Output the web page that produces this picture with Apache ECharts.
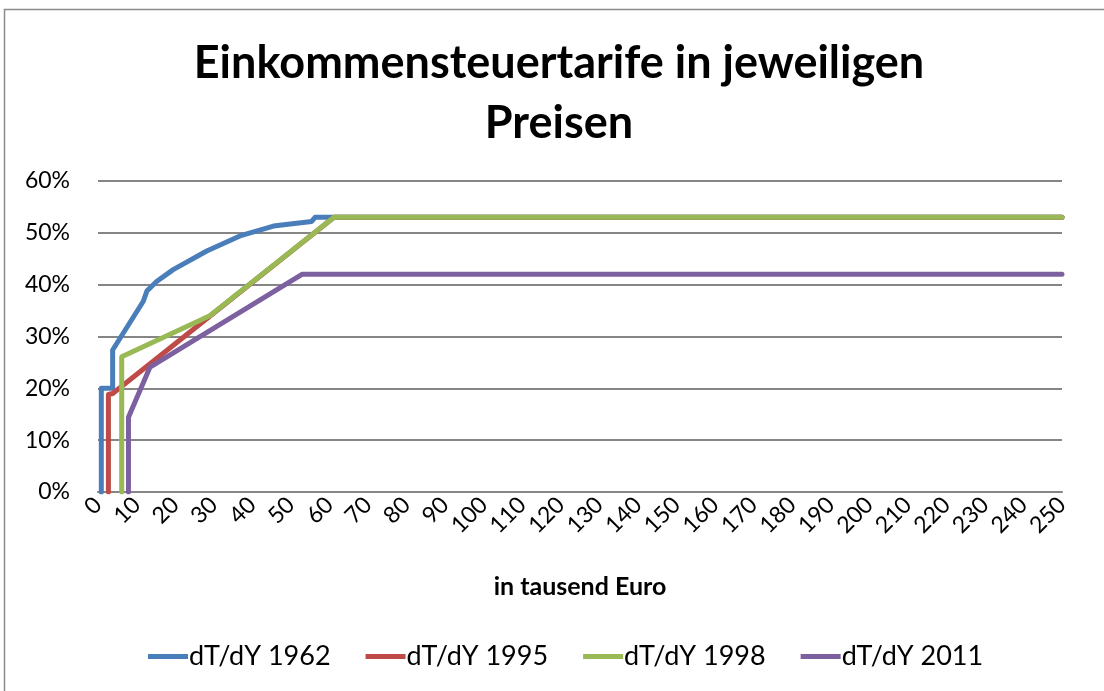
<!DOCTYPE html>
<html>
<head>
<meta charset="utf-8">
<script src="https://cdn.jsdelivr.net/npm/echarts@6/dist/echarts.min.js"></script>
<style>
html,body{margin:0;padding:0;background:#fff;}
#chart{width:1104px;height:691px;}
</style>
</head>
<body>
<div id="chart"></div>
<script>
// x: Einkommen in tausend Euro, y: Grenzsteuersatz in %
const income1962 = [0.86, 0.86, 3.8, 3.8, 11.75, 12.7, 15.2, 19.5, 28.2, 36.8, 45.5, 55.4, 56.3, 250];
const rate1962   = [0,    20,   20,  27.4, 36.8, 38.8, 40.6, 42.9, 46.5, 49.4, 51.3, 52.2, 53,   53];
const income1995 = [2.7, 2.7, 3.8, 29.0, 61.2, 250];
const rate1995   = [0,   18.8, 19, 33.9, 53,   53];
const income1998 = [6.15, 6.15, 29.0, 61.2, 250];
const rate1998   = [0,    26.1, 34.0, 53,   53];
const income2011 = [7.9, 7.9, 13.5, 52.9, 250];
const rate2011   = [0,   14.4, 24.1, 42,   42];
const seriesNames = ['dT/dY 1962', 'dT/dY 1995', 'dT/dY 1998', 'dT/dY 2011'];
const xTicks = {min: 0, max: 250, step: 10};
const yTicks = {min: 0, max: 60, step: 10};

const zip = (a, b) => a.map((v, i) => [v, b[i]]);
const colors = ['#4A7EBB', '#BE4B48', '#98B954', '#7D60A0'];
const font = 'Lato, "Open Sans", sans-serif';
const dataSets = [zip(income1962, rate1962), zip(income1995, rate1995), zip(income1998, rate1998), zip(income2011, rate2011)];

const chart = echarts.init(document.getElementById('chart'));
chart.setOption({
  animation: false,
  color: colors,
  textStyle: {fontFamily: font},
  grid: {left: 98, right: 42, top: 181, bottom: 199, containLabel: false},
  graphic: [
    {type: 'rect', shape: {x: 4.5, y: 9.5, width: 1300, height: 900}, style: {fill: 'none', stroke: '#8a8a8a', lineWidth: 1.5}, silent: true},
    {type: 'text', x: 559, y: 63, style: {text: 'Einkommensteuertarife in jeweiligen', font: 'bold 45px ' + font, fill: '#000', textAlign: 'center', textVerticalAlign: 'middle'}},
    {type: 'text', x: 559, y: 123, style: {text: 'Preisen', font: 'bold 45px ' + font, fill: '#000', textAlign: 'center', textVerticalAlign: 'middle'}},
    {type: 'text', x: 580, y: 587, style: {text: 'in tausend Euro', font: 'bold 25px ' + font, fill: '#000', textAlign: 'center', textVerticalAlign: 'middle'}}
  ],
  legend: {
    bottom: 16, left: 143,
    data: seriesNames,
    icon: 'rect', itemWidth: 40, itemHeight: 5, itemGap: 35,
    textStyle: {fontSize: 27, color: '#000', fontFamily: font, padding: [0, 0, 0, -4]}
  },
  xAxis: {
    type: 'value', min: xTicks.min, max: xTicks.max, interval: xTicks.step,
    axisLine: {show: true, lineStyle: {color: '#868686', width: 2}},
    axisTick: {show: false},
    splitLine: {show: false},
    axisLabel: {rotate: 45, fontSize: 23, color: '#000', margin: 9, fontFamily: font}
  },
  yAxis: {
    type: 'value', min: yTicks.min, max: yTicks.max, interval: yTicks.step,
    axisLine: {show: false},
    axisTick: {show: false},
    splitLine: {show: true, lineStyle: {color: '#868686', width: 2}},
    axisLabel: {formatter: '{value}%', fontSize: 23, color: '#000', margin: 28, fontFamily: font}
  },
  series: seriesNames.map((n, i) => ({
    name: n, type: 'line', data: dataSets[i], symbol: 'none',
    lineStyle: {width: 5, color: colors[i], cap: 'round', join: 'round'},
    z: 2 + i
  }))
});
</script>
</body>
</html>
